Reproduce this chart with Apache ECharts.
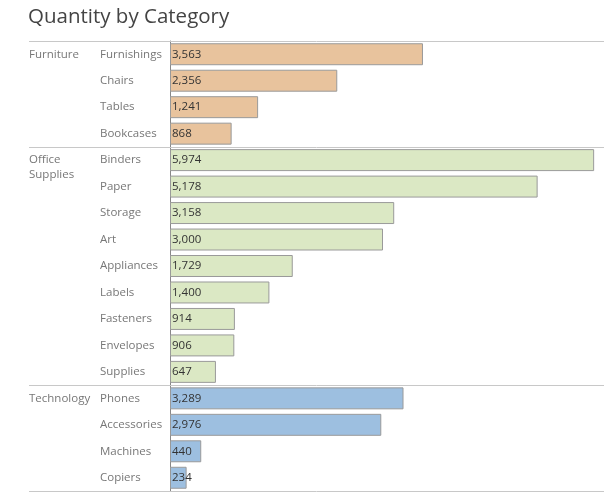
<!DOCTYPE html>
<html>
<head>
<meta charset="utf-8">
<script src="https://cdn.jsdelivr.net/npm/echarts@6/dist/echarts.min.js"></script>
<style>
  html, body { margin: 0; padding: 0; background: #fff; }
  #chart { width: 610px; height: 494px; }
</style>
</head>
<body>
<div id="chart"></div>
<script>
// data
const groups = ["Furniture", "Furniture", "Furniture", "Furniture",
  "Office Supplies", "Office Supplies", "Office Supplies", "Office Supplies", "Office Supplies",
  "Office Supplies", "Office Supplies", "Office Supplies", "Office Supplies",
  "Technology", "Technology", "Technology", "Technology"];
const subCategories = ["Furnishings", "Chairs", "Tables", "Bookcases",
  "Binders", "Paper", "Storage", "Art", "Appliances", "Labels", "Fasteners", "Envelopes", "Supplies",
  "Phones", "Accessories", "Machines", "Copiers"];
const quantities = [3563, 2356, 1241, 868,
  5974, 5178, 3158, 3000, 1729, 1400, 914, 906, 647,
  3289, 2976, 440, 234];

const groupColors = {
  "Furniture": "#e8c39d",
  "Office Supplies": "#dbe8c4",
  "Technology": "#9dbfe0"
};

// group label only on the first row of each group
const groupLabels = groups.map((g, i) => (i === 0 || groups[i - 1] !== g) ? g : "");

const chart = echarts.init(document.getElementById("chart"));

const font = "'Open Sans', 'Noto Sans', sans-serif";

chart.setOption({
  animation: false,
  title: {
    text: "Quantity by Category",
    left: 28,
    top: 7,
    padding: 0,
    textStyle: { fontFamily: font, fontSize: 20.5, fontWeight: "normal", color: "#444" }
  },
  grid: { left: 170, right: 14, top: 41, bottom: 3 },
  xAxis: {
    type: "value",
    min: 0,
    max: 6000,
    show: false
  },
  yAxis: [
    {
      type: "category",
      data: subCategories,
      inverse: true,
      position: "left",
      axisLine: { show: true, lineStyle: { color: "#888", width: 1 } },
      axisTick: { show: false },
      axisLabel: {
        interval: 0, margin: 70, align: "left", fontFamily: font, fontSize: 11.5, color: "#777"
      },
      splitLine: { show: false }
    },
    {
      type: "category",
      data: groupLabels,
      inverse: true,
      position: "left",
      offset: 0,
      axisLine: { show: false },
      axisTick: { show: false },
      axisLabel: {
        interval: 0, margin: 141, align: "left", fontFamily: font, fontSize: 11.5, color: "#777",
        lineHeight: 15,
        formatter: v => v.indexOf(" ") > 0 ? "\n" + v.replace(" ", "\n") : v
      }
    }
  ],
  series: [{
    type: "bar",
    yAxisIndex: 0,
    barCategoryGap: "17%",
    data: quantities.map((q, i) => ({
      value: q,
      itemStyle: { color: groupColors[groups[i]] }
    })),
    itemStyle: { borderColor: "#9a9a9a", borderWidth: 1 },
    label: {
      show: true,
      position: "insideLeft",
      distance: 2,
      fontFamily: font,
      fontSize: 11.5,
      color: "#333",
      formatter: p => p.value.toLocaleString("en-US")
    }
  }]
});

// separator lines at the group boundaries, placed with the category scale
function drawSeparators() {
  const c0 = chart.convertToPixel({ yAxisIndex: 0 }, 0);
  const c1 = chart.convertToPixel({ yAxisIndex: 0 }, 1);
  const half = (c1 - c0) / 2;
  const ys = [];
  groups.forEach((g, i) => {
    if (i === 0 || groups[i - 1] !== g) ys.push(chart.convertToPixel({ yAxisIndex: 0 }, i) - half);
  });
  ys.push(chart.convertToPixel({ yAxisIndex: 0 }, groups.length - 1) + half);
  chart.setOption({
    graphic: ys.map(y => ({
      type: "line",
      shape: { x1: 29, y1: Math.round(y) + 0.5, x2: 604, y2: Math.round(y) + 0.5 },
      style: { stroke: "#c8c8c8", lineWidth: 1 },
      z: 1
    }))
  });
}
drawSeparators();
</script>
</body>
</html>
